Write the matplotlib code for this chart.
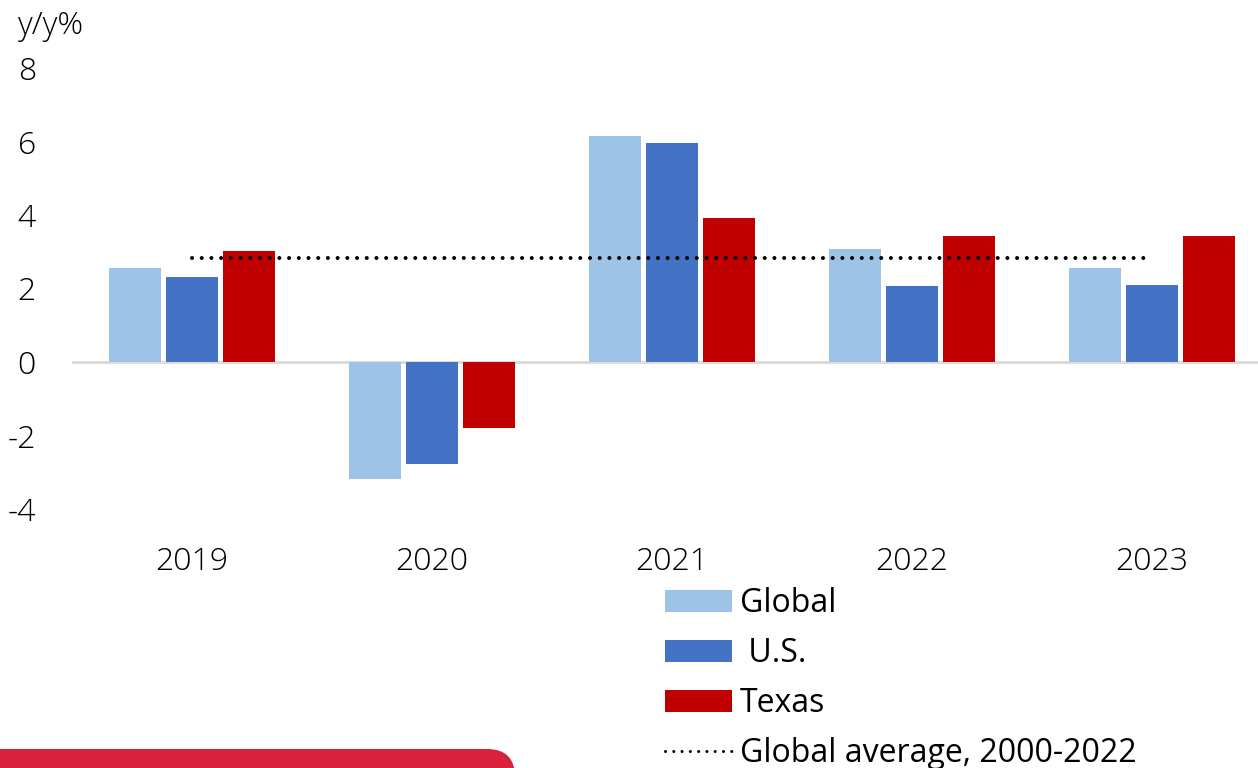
import matplotlib
matplotlib.use("Agg")
import matplotlib.pyplot as plt
from matplotlib.patches import Patch, FancyBboxPatch
from matplotlib.lines import Line2D
import numpy as np

plt.rcParams["font.family"] = ["Open Sans", "DejaVu Sans"]

years = ["2019", "2020", "2021", "2022", "2023"]
global_vals = [2.56, -3.18, 6.15, 3.07, 2.56]
us_vals = [2.31, -2.78, 5.96, 2.07, 2.10]
texas_vals = [3.02, -1.80, 3.92, 3.43, 3.43]
global_avg = 2.83

C_GLOBAL = "#9DC3E6"
C_US = "#4472C4"
C_TEXAS = "#C00000"

fig = plt.figure(figsize=(12.58, 7.68), dpi=100)
fig.patch.set_facecolor("white")

# plot area runs a little past the right edge of the figure
ax = fig.add_axes([72 / 1258, 1 - 509 / 768, 1200 / 1258, (509 - 68) / 768])

x = np.arange(len(years))
w = 0.217
off = 0.236
ax.bar(x - off, global_vals, w, color=C_GLOBAL, zorder=2)
ax.bar(x, us_vals, w, color=C_US, zorder=2)
ax.bar(x + off, texas_vals, w, color=C_TEXAS, zorder=2)

ax.axhline(0, color="#D9D9D9", lw=2, zorder=1)
ax.plot([0, 4], [global_avg, global_avg], color="black", lw=2.9,
        dashes=(0.01, 2.4), dash_capstyle="round", zorder=3)

ax.set_xlim(-0.5, 4.5)
ax.set_ylim(-4, 8)
ax.set_yticks([-4, -2, 0, 2, 4, 6, 8])
ax.set_yticklabels(["-4", "-2", "0", "2", "4", "6", "8"])
ax.set_xticks(x)
ax.set_xticklabels(years)
for s in ax.spines.values():
    s.set_visible(False)
ax.tick_params(axis="y", length=0, pad=26, labelsize=23, labelcolor="black")
ax.tick_params(axis="x", length=0, pad=27, labelsize=23, labelcolor="black")
for t in ax.get_xticklabels() + ax.get_yticklabels():
    t.set_fontweight("light")

fig.text(18 / 1258, 1 - 10 / 768, "y/y%", fontsize=23, fontweight="light",
         ha="left", va="top")

handles = [
    Patch(facecolor=C_GLOBAL, label="Global"),
    Patch(facecolor=C_US, label=" U.S."),
    Patch(facecolor=C_TEXAS, label="Texas"),
    Line2D([0], [0], color="black", lw=2.2, dashes=(0.01, 2.7),
           dash_capstyle="round", label="Global average, 2000-2022"),
]
fig.legend(handles=handles, loc="upper left",
           bbox_to_anchor=(665 / 1258, 1 - 587 / 768),
           frameon=False, fontsize=23, handlelength=2.1, handleheight=0.7,
           handletextpad=0.25, labelspacing=0.53, borderpad=0, borderaxespad=0)

# red footer tab, rounded top-right corner
tab = FancyBboxPatch((-1, -1), 1 + 5.15, 1 + 0.19,
                     boxstyle="round,pad=0,rounding_size=0.28",
                     transform=fig.dpi_scale_trans, facecolor="#DA213B",
                     edgecolor="none", clip_on=False)
fig.patches.append(tab)

fig.savefig("out.png", dpi=100, facecolor="white")
